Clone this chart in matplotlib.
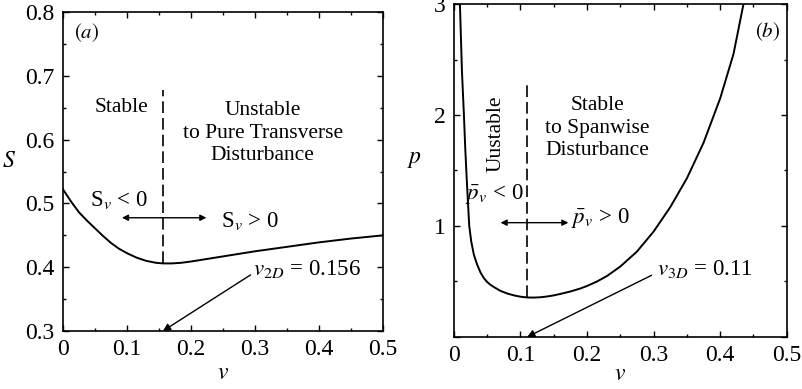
import matplotlib.pyplot as plt
from matplotlib.ticker import MultipleLocator

plt.rcParams["font.family"] = "Liberation Serif"
plt.rcParams["mathtext.fontset"] = "stix"

# panel (a): S against v
v_a = [0.0, 0.0125, 0.025, 0.0375, 0.05, 0.0625, 0.075, 0.0875, 0.1, 0.115, 0.13, 0.145,
       0.156, 0.17, 0.185, 0.2, 0.225, 0.25, 0.275, 0.3, 0.35, 0.4, 0.45, 0.5]
s_a = [0.522, 0.503, 0.486, 0.473, 0.461, 0.449, 0.438, 0.429, 0.422, 0.415, 0.41, 0.407,
       0.406, 0.406, 0.407, 0.409, 0.413, 0.417, 0.421, 0.425, 0.432, 0.439, 0.445, 0.45]
v_2d = 0.156

# panel (b): p against v
v_b = [0.009, 0.0105, 0.012, 0.0135, 0.015, 0.017, 0.019, 0.021, 0.023, 0.026, 0.03,
       0.035, 0.04, 0.045, 0.05, 0.055, 0.06, 0.07, 0.08, 0.09, 0.1, 0.11, 0.12, 0.13,
       0.14, 0.15, 0.16, 0.175, 0.19, 0.2, 0.215, 0.23, 0.25, 0.275, 0.3, 0.325, 0.35,
       0.375, 0.4, 0.42, 0.435]
p_b = [3.0, 2.7, 2.4, 2.2, 2.0, 1.7, 1.45, 1.22, 1.0, 0.86, 0.74,
       0.65, 0.58, 0.53, 0.495, 0.47, 0.45, 0.415, 0.392, 0.375, 0.363, 0.356, 0.355, 0.358,
       0.365, 0.375, 0.388, 0.41, 0.437, 0.46, 0.5, 0.55, 0.635, 0.77, 0.95, 1.17, 1.43,
       1.75, 2.15, 2.55, 3.0]
v_3d = 0.11


def style_axes(ax, xminor, yminor, ymajor):
    ax.set_xlim(0, 0.5)
    ax.xaxis.set_major_locator(MultipleLocator(0.1))
    ax.xaxis.set_minor_locator(MultipleLocator(xminor))
    ax.yaxis.set_major_locator(MultipleLocator(ymajor))
    ax.yaxis.set_minor_locator(MultipleLocator(yminor))
    ax.tick_params(which="both", direction="in", top=True, right=True, labelsize=17,
                   width=1.0)
    ax.tick_params(which="major", length=4, pad=6)
    ax.tick_params(which="minor", length=2.5)
    for sp in ax.spines.values():
        sp.set_linewidth(1.2)
    ax.xaxis.set_major_formatter(plt.FuncFormatter(lambda x, _: "0" if x == 0 else f"{x:g}"))


fig = plt.figure(figsize=(8.02, 3.89), dpi=100)
ax1 = fig.add_axes([0.0786, 0.149, 0.399, 0.820])
ax2 = fig.add_axes([0.566, 0.1337, 0.415, 0.856])

arrow2 = dict(arrowstyle="<|-|>", color="black", lw=1.0, mutation_scale=9,
              shrinkA=0, shrinkB=0)
arrow1 = dict(arrowstyle="-|>", color="black", lw=1.0, mutation_scale=11,
              shrinkA=0, shrinkB=0)

# ---- (a)
ax1.plot(v_a, s_a, color="black", lw=1.4)
ax1.plot([v_2d, v_2d], [0.406, 0.678], color="black", lw=1.2, dashes=(7, 3))
ax1.set_ylim(0.3, 0.8)
style_axes(ax1, 0.05, 0.05, 0.1)
ax1.set_xlabel(r"$v$", fontsize=17, labelpad=2)
ax1.set_ylabel(r"$S$", fontsize=17, rotation=0, labelpad=12)
ax1.text(0.0375, 0.767, r"$(a)$", fontsize=15, ha="center", va="center")
ax1.text(0.092, 0.65, "Stable", fontsize=15.5, ha="center", va="center")
ax1.text(0.312, 0.61, "Unstable\nto Pure Transverse\nDisturbance", fontsize=15.5,
         ha="center", va="center", linespacing=1.25)
ax1.text(0.087, 0.506, r"S$_v$ < 0", fontsize=16.5, ha="center", va="center")
ax1.text(0.292, 0.473, r"S$_v$ > 0", fontsize=16.5, ha="center", va="center")
ax1.annotate("", xy=(0.092, 0.4776), xytext=(0.224, 0.4776), arrowprops=arrow2)
ax1.annotate("", xy=(v_2d, 0.3), xytext=(0.293, 0.388), arrowprops=arrow1)
ax1.text(0.297, 0.398, r"$v_{2D}$ = 0.156", fontsize=16.5, ha="left", va="center")

# ---- (b)
ax2.plot(v_b, p_b, color="black", lw=1.4)
ax2.plot([v_3d, v_3d], [0.356, 2.27], color="black", lw=1.2, dashes=(7, 3))
ax2.set_ylim(0, 3)
style_axes(ax2, 0.05, 0.5, 1)
ax2.yaxis.set_major_formatter(plt.FuncFormatter(lambda y, _: "" if y == 0 else f"{y:g}"))
ax2.set_xlabel(r"$v$", fontsize=17, labelpad=-2)
ax2.set_ylabel(r"$p$", fontsize=17, rotation=0, labelpad=14)
ax2.text(0.472, 2.75, r"$(b)$", fontsize=15, ha="center", va="center")
ax2.text(0.064, 1.83, "Uustable", fontsize=15.5, ha="center", va="center", rotation=90)
ax2.text(0.215, 1.88, "Stable\nto Spanwise\nDisturbance", fontsize=15.5,
         ha="center", va="center", linespacing=1.25)
ax2.text(0.061, 1.29, r"$\bar{p}_v$ < 0", fontsize=16.5, ha="center", va="center")
ax2.text(0.176, 1.07, r"$\bar{p}_v$ > 0", fontsize=16.5, ha="left", va="center")
ax2.annotate("", xy=(0.07, 1.03), xytext=(0.172, 1.03), arrowprops=arrow2)
ax2.annotate("", xy=(v_3d, 0.0), xytext=(0.297, 0.556), arrowprops=arrow1)
ax2.text(0.305, 0.615, r"$v_{3D}$ = 0.11", fontsize=16.5, ha="left", va="center")

fig.savefig("out.png", dpi=100)
